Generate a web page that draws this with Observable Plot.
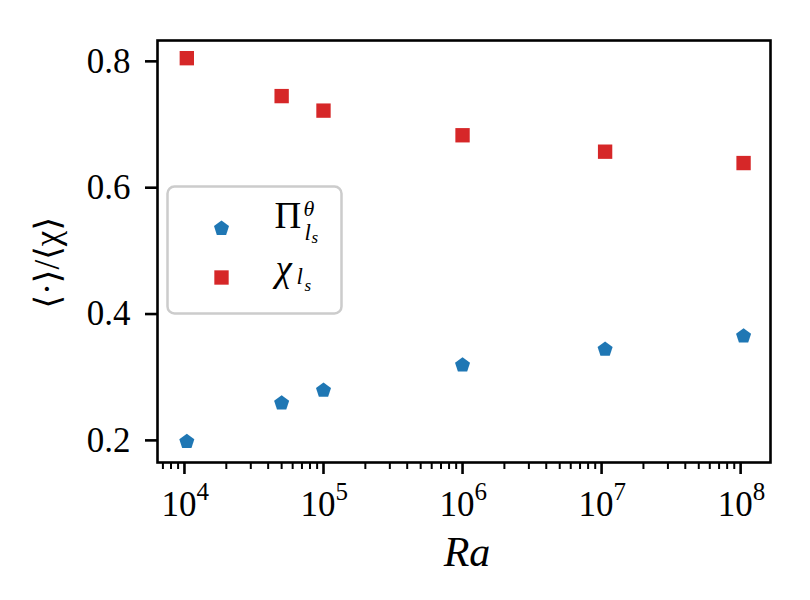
<!DOCTYPE html>
<html>
<head>
<meta charset="utf-8">
<script src="https://cdn.jsdelivr.net/npm/d3@7"></script>
<script src="https://cdn.jsdelivr.net/npm/@observablehq/plot@0.6"></script>
<style>
  html, body { margin: 0; padding: 0; background: #fff; }
  #chart { width: 810px; height: 600px; }
  #chart svg text { font-family: 'Liberation Serif', 'DejaVu Serif', serif; }
</style>
</head>
<body>
<div id="chart"></div>
<script>
// ---- data ----
const Ra = [1.04e4, 5e4, 1e5, 1e6, 1.06e7, 1.05e8];
const piTheta = [0.198, 0.259, 0.279, 0.319, 0.344, 0.365];
const chiLs = [0.805, 0.745, 0.722, 0.683, 0.657, 0.639];
const xDecades = [1e4, 1e5, 1e6, 1e7, 1e8];
const xExponents = ["4", "5", "6", "7", "8"];
const yTicks = [0.2, 0.4, 0.6, 0.8];

const blue = "#1f77b4", red = "#d62728";
const font = "'Liberation Serif', 'DejaVu Serif', serif";
const xDomain = [6400, 1.64e8];

const minorTicks = [];
for (const d of [1e3, 1e4, 1e5, 1e6, 1e7, 1e8]) {
  for (let k = 2; k <= 9; k++) {
    const v = d * k;
    if (v >= xDomain[0] && v <= xDomain[1]) minorTicks.push(v);
  }
}

const pentagon = {
  draw(context, size) {
    const r = Math.sqrt(size / Math.PI);
    for (let i = 0; i < 5; i++) {
      const a = -Math.PI / 2 + i * 2 * Math.PI / 5;
      const x = r * Math.cos(a), y = r * Math.sin(a);
      if (i === 0) context.moveTo(x, y); else context.lineTo(x, y);
    }
    context.closePath();
  }
};

const rows = Ra.map((x, i) => ({Ra: x, pi: piTheta[i], chi: chiLs[i]}));
const txt = (s, o) => Plot.text([s], {frameAnchor: "top-left", textAnchor: "start", lineAnchor: "bottom", fontFamily: font, fill: "black", ...o});

const chart = Plot.plot({
  width: 810,
  height: 600,
  marginLeft: 157,
  marginRight: 40,
  marginTop: 40,
  marginBottom: 138,
  style: {background: "white", color: "black", fontFamily: font},
  x: {type: "log", domain: xDomain, axis: null, label: null},
  y: {domain: [0.165, 0.833], axis: null, label: null},
  marks: [
    // minor and major x ticks
    Plot.axisX({ticks: minorTicks, tickSize: 7, text: null, label: null, strokeWidth: 2, anchor: "bottom"}),
    Plot.axisX({ticks: xDecades, tickSize: 12, text: null, label: null, strokeWidth: 2.6, anchor: "bottom"}),
    // x tick labels 10^n
    Plot.text(xDecades, {x: d => d, text: () => "10", frameAnchor: "bottom", textAnchor: "end", lineAnchor: "bottom", dx: 12, dy: 53, fontSize: 35, fontFamily: font, fill: "black"}),
    Plot.text(xDecades, {x: d => d, text: (d, i) => xExponents[i], frameAnchor: "bottom", textAnchor: "start", lineAnchor: "bottom", dx: 12, dy: 37, fontSize: 25, fontFamily: font, fill: "black"}),
    // y ticks + labels
    Plot.axisY({ticks: yTicks, tickSize: 12, text: null, label: null, strokeWidth: 2.6, anchor: "left"}),
    Plot.axisY({ticks: yTicks, tickSize: 0, tickPadding: 27, label: null, anchor: "left", tickFormat: d => d.toFixed(1), fontSize: 35, fontFamily: font, fill: "black"}),
    // axis labels
    Plot.text(["Ra"], {frameAnchor: "bottom", lineAnchor: "bottom", dx: 3, dy: 103, fontSize: 42, fontStyle: "italic", fontFamily: font, fill: "black"}),
    Plot.text(["⟨·⟩/⟨χ⟩"], {frameAnchor: "left", textAnchor: "start", dx: -110, dy: 57, rotate: -90, fontSize: 35, fontFamily: font, fill: "black"}),
    // data
    Plot.dot(rows, {x: "Ra", y: "chi", symbol: "square", fill: red, r: 8.1}),
    Plot.dot(rows, {x: "Ra", y: "pi", symbol: pentagon, fill: blue, r: 7.9}),
    // legend
    Plot.frame({insetLeft: 10, insetTop: 146, insetRight: 429, insetBottom: 149, rx: 7, stroke: "#cccccc", strokeWidth: 2.5, fill: "white", fillOpacity: 0.8}),
    Plot.dot([0], {frameAnchor: "top-left", dx: 64, dy: 188, symbol: pentagon, fill: blue, r: 7.9}),
    Plot.dot([0], {frameAnchor: "top-left", dx: 64, dy: 237, symbol: "square", fill: red, r: 8.1}),
    txt("Π", {dx: 117, dy: 187, fontSize: 37}),
    txt("θ", {dx: 146, dy: 175, fontSize: 22, fontStyle: "italic"}),
    txt("l", {dx: 147, dy: 199, fontSize: 23, fontStyle: "italic"}),
    txt("s", {dx: 154, dy: 202, fontSize: 17, fontStyle: "italic"}),
    txt("χ", {dx: 118, dy: 240, fontSize: 37, fontStyle: "italic"}),
    txt("l", {dx: 139, dy: 243, fontSize: 23, fontStyle: "italic"}),
    txt("s", {dx: 147, dy: 250, fontSize: 17, fontStyle: "italic"}),
    // frame
    Plot.frame({stroke: "black", strokeWidth: 2.6})
  ]
});
document.getElementById("chart").appendChild(chart);
</script>
</body>
</html>
